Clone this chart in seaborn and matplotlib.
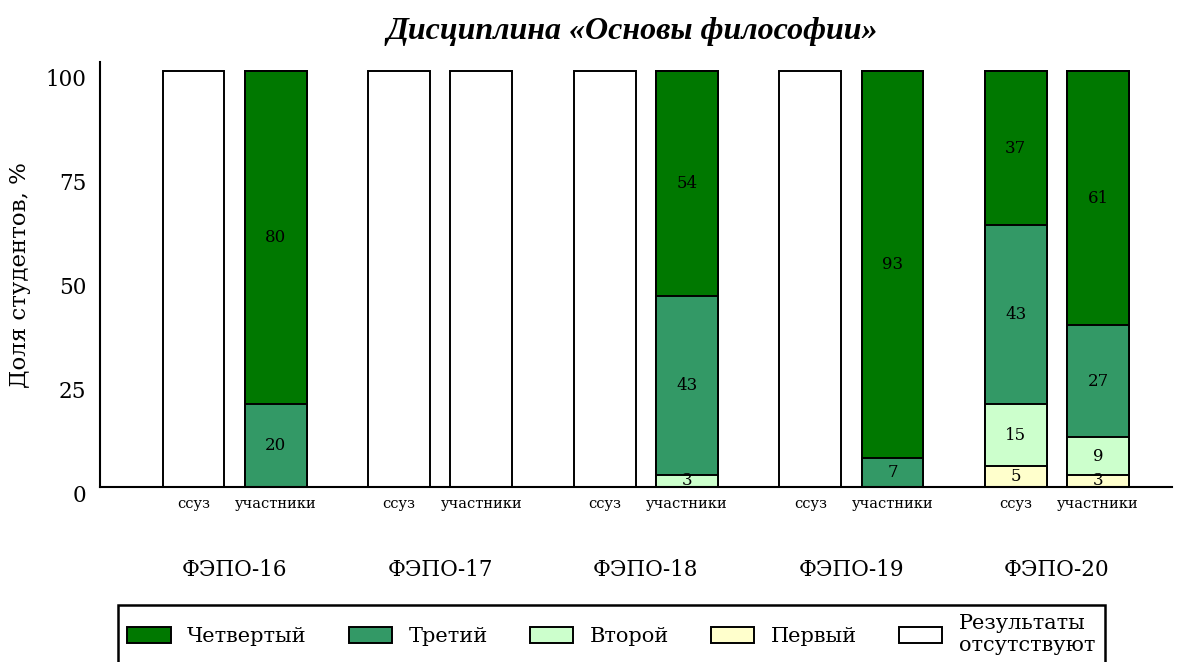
import pandas as pd
import numpy as np
import matplotlib.pyplot as plt
import matplotlib.transforms as mtransforms
import seaborn as sns
from matplotlib.patches import Patch

groups = ['ФЭПО-16', 'ФЭПО-17', 'ФЭПО-18', 'ФЭПО-19', 'ФЭПО-20']
kinds = ['ссуз', 'участники']

# по два столбца на группу: ссуз, участники
first = [0, 0, 0, 0, 0, 0, 0, 0, 5, 3]
second = [0, 0, 0, 0, 0, 3, 0, 0, 15, 9]
third = [0, 20, 0, 0, 0, 43, 0, 7, 43, 27]
fourth = [0, 80, 0, 0, 0, 54, 0, 93, 37, 61]
absent = [100, 0, 100, 100, 100, 0, 100, 0, 0, 0]

level_names = ['Первый', 'Второй', 'Третий', 'Четвертый', 'Результаты\nотсутствуют']
level_colors = ['#ffffcc', '#ccffcc', '#339966', '#007800', '#ffffff']

sns.set_theme(style='white')
plt.rcParams['font.family'] = ['DejaVu Serif']
for key in ['text.color', 'axes.labelcolor', 'xtick.color', 'ytick.color']:
	plt.rcParams[key] = 'black'

levels = [first, second, third, fourth, absent]
cum = np.cumsum(np.array(levels, dtype=float), axis=0)

df = pd.DataFrame({
	'группа': [g for g in groups for _ in kinds],
	'вид': kinds * len(groups),
})

fig, ax = plt.subplots(figsize=(11.78, 6.62), dpi=100)
fig.subplots_adjust(left=0.085, right=0.995, bottom=0.264, top=0.906)

# рисуем от верхнего слоя к нижнему, накладывая
for k in range(len(levels) - 1, -1, -1):
	d = df.copy()
	d['h'] = cum[k]
	sns.barplot(data=d, x='группа', y='h', hue='вид', hue_order=kinds,
				palette={kinds[0]: level_colors[k], kinds[1]: level_colors[k]},
				width=0.8, gap=0.25, dodge=True, errorbar=None, legend=False,
				edgecolor='black', linewidth=1.4, saturation=1, ax=ax)

xs = []
for i in range(len(groups)):
	xs += [i - 0.2, i + 0.2]

for j, x in enumerate(xs):
	base = 0
	for k in range(4):
		v = levels[k][j]
		if v > 0:
			ax.text(x, base + v / 2, f'{v}', ha='center', va='center', fontsize=12, color='black')
		base += v

ax.set_xticks(xs, kinds * len(groups), fontsize=10.5)
ax.set_xticks(range(len(groups)), groups, minor=True, fontsize=15.5)
ax.tick_params(axis='x', which='major', length=0, pad=7)
ax.tick_params(axis='x', which='minor', length=0, pad=52)
ax.set_yticks([0, 25, 50, 75, 100])
ax.tick_params(axis='y', length=0, labelsize=15.5, pad=10)
shift = mtransforms.ScaledTranslation(0, -6 / 100, fig.dpi_scale_trans)
for lbl in ax.get_yticklabels():
	lbl.set_transform(lbl.get_transform() + shift)
ax.set_xlim(-0.654, 4.56)
ax.set_ylim(0, 102.2)
ax.set_xlabel('')
ax.set_ylabel('Доля студентов, %', fontsize=16.5, labelpad=10)
for s in ['top', 'right']:
	ax.spines[s].set_visible(False)
for s in ['left', 'bottom']:
	ax.spines[s].set_color('black')
	ax.spines[s].set_linewidth(1.5)

fig.suptitle('Дисциплина «Основы философии»', x=0.537, y=0.953, va='center', fontsize=23,
			 family='Liberation Serif', weight='bold', style='italic')

order = [3, 2, 1, 0, 4]
handles = [Patch(facecolor=level_colors[k], edgecolor='black', linewidth=1.4) for k in order]
leg = fig.legend(handles, [level_names[k] for k in order], ncol=5, loc='upper left',
				 bbox_to_anchor=(0.1002, 0.0861), frameon=True, fancybox=False,
				 edgecolor='black', framealpha=1, fontsize=15, handlelength=2.07,
				 handleheight=0.82, handletextpad=0.8, columnspacing=2.02, borderpad=0.45,
				 borderaxespad=0, labelspacing=0.1)
leg.get_frame().set_linewidth(1.8)

plt.savefig('out.png')
